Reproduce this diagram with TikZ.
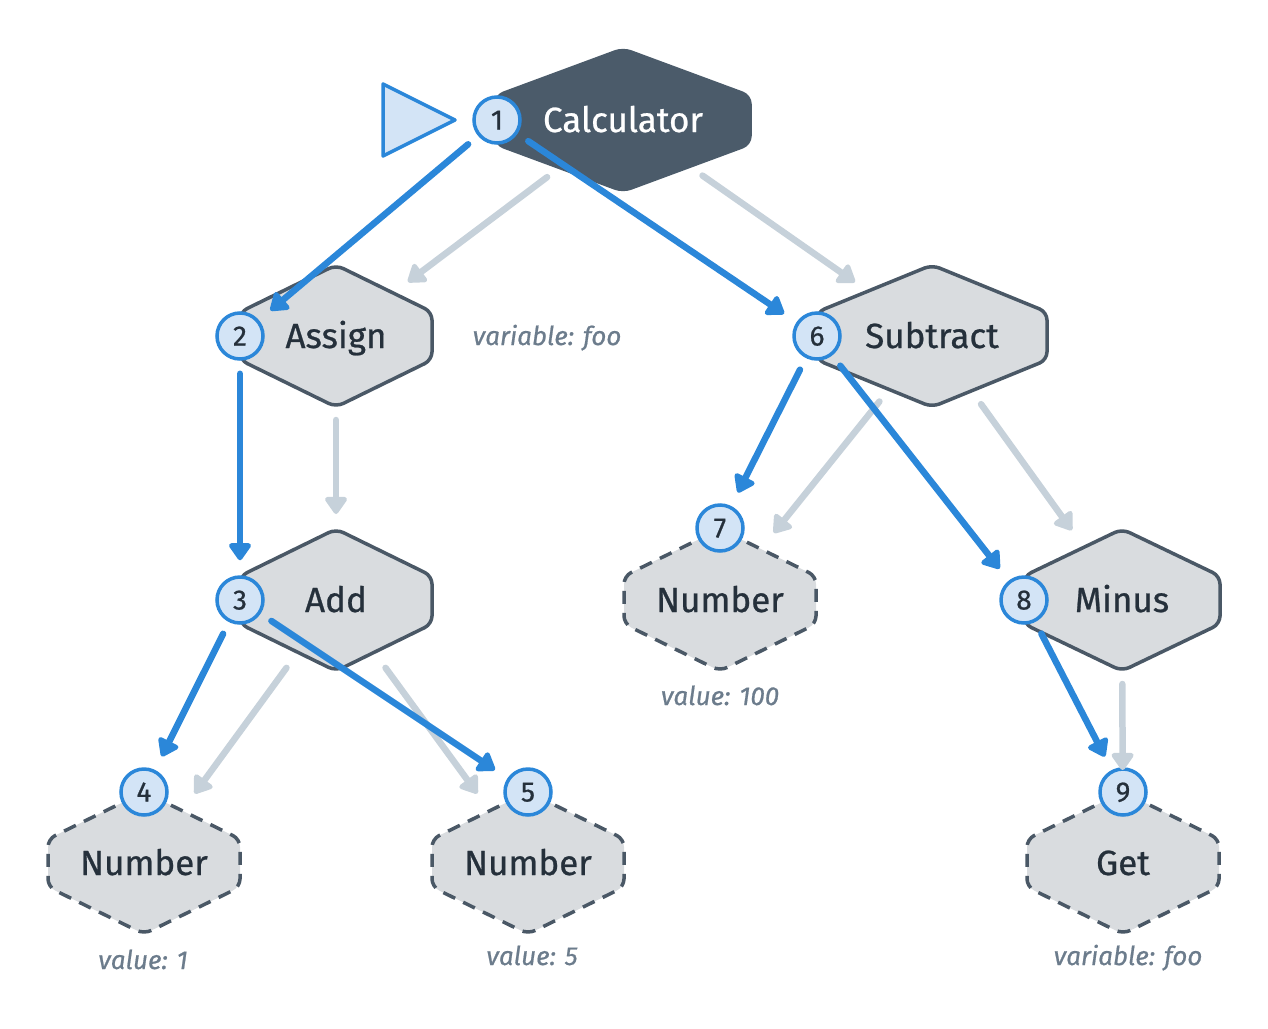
\documentclass[tikz,border=0pt]{standalone}
\usepackage{fontspec}
\setmainfont{Fira Sans}[FakeBold=0.7]
\usetikzlibrary{arrows.meta}

\definecolor{inkdark}{HTML}{25303B}
\definecolor{hexfill}{HTML}{D9DCDF}
\definecolor{hexedge}{HTML}{4A5866}
\definecolor{rootfill}{HTML}{4B5B6A}
\definecolor{flowblue}{HTML}{2B87D9}
\definecolor{badgefill}{HTML}{D3E4F6}
\definecolor{treegray}{HTML}{C6D1DA}
\definecolor{notegray}{HTML}{6C7C8C}

\newcommand\hexoutline{([yshift=-4pt]path picture bounding box.north)
  -- ([xshift=-4pt,yshift=24pt]path picture bounding box.east)
  -- ([xshift=-4pt,yshift=-24pt]path picture bounding box.east)
  -- ([yshift=4pt]path picture bounding box.south)
  -- ([xshift=4pt,yshift=-24pt]path picture bounding box.west)
  -- ([xshift=4pt,yshift=24pt]path picture bounding box.west) -- cycle}

\begin{document}
\begin{tikzpicture}[x=1pt, y=-1pt, >={Triangle[length=19pt,width=25pt,round]},
  hex/.style={rectangle, minimum height=150pt, inner sep=0pt, text=inkdark,
    text height=24pt, text depth=0pt, font=\fontsize{35}{40}\selectfont},
  op/.style={hex, path picture={\filldraw[fill=hexfill, draw=hexedge, line width=3.5pt,
    rounded corners=8pt] \hexoutline;}},
  leaf/.style={hex, path picture={\filldraw[fill=hexfill, draw=hexedge, line width=3.5pt,
    dash pattern=on 13pt off 9pt, rounded corners=8pt] \hexoutline;}},
  root/.style={hex, text=white, path picture={\filldraw[fill=rootfill, draw=rootfill,
    line width=3.5pt, rounded corners=8pt] \hexoutline;}},
  badge/.style={circle, minimum size=46pt, inner sep=0pt, fill=badgefill, draw=flowblue,
    line width=3.5pt, text=inkdark, text height=19pt, text depth=0pt,
    font=\fontsize{28}{30}\selectfont},
  flow/.style={->, draw=flowblue, line width=6.5pt, line cap=round,
    shorten <=13pt, shorten >=15pt},
  tree/.style={->, draw=treegray, line width=6.5pt, line cap=round,
    shorten <=84pt, shorten >=86pt},
  note/.style={text=notegray, text height=18pt, text depth=0pt,
    font=\fontsize{26}{30}\selectfont\itshape}]

\useasboundingbox (0,0) rectangle (1268,1028);

% start marker
\draw[fill=badgefill, draw=flowblue, line width=3.5pt, line join=round]
  (383,84) -- (455,120) -- (383,156) -- cycle;

% syntax tree
\node[root, minimum width=262pt] (calc) at (623,120) {Calculator};
\node[op, minimum width=200pt] (assign) at (336,336) {Assign};
\node[op, minimum width=238pt] (sub) at (932,336) {Subtract};
\node[op, minimum width=200pt] (add) at (336,600) {Add};
\node[leaf, minimum width=200pt] (num7) at (720,600) {Number};
\node[op, minimum width=204pt] (minus) at (1122,600) {Minus};
\node[leaf, minimum width=200pt] (num4) at (144,863) {Number};
\node[leaf, minimum width=200pt] (num5) at (528,863) {Number};
\node[leaf, minimum width=200pt] (get) at (1123,863) {Get};

% properties
\node[note] (assignvar) at (547,336) {variable: foo};
\node[note] (val100) at (720,696) {value: 100};
\node[note] (val1) at (143,960) {value: 1};
\node[note] (val5) at (532,956) {value: 5};
\node[note] (getvar) at (1128,956) {variable: foo};

% visit order
\node[badge] (b1) at (497,120) {1};
\node[badge] (b2) at (240,336) {2};
\node[badge] (b3) at (240,600) {3};
\node[badge] (b4) at (144,792) {4};
\node[badge] (b5) at (528,792) {5};
\node[badge] (b6) at (817,336) {6};
\node[badge] (b7) at (720,528) {7};
\node[badge] (b8) at (1024,600) {8};
\node[badge] (b9) at (1123,792) {9};

% children
\draw[tree, shorten <=95pt, shorten >=90pt] (calc.center) -- (assign.center);
\draw[tree, shorten <=97pt, shorten >=94pt] (calc.center) -- (sub.center);
\draw[tree] (assign.center) -- (add.center);
\draw[tree] (add.center) -- (num4.center);
\draw[tree] (add.center) -- (num5.center);
\draw[tree] (sub.center) -- (num7.center);
\draw[tree] (sub.center) -- (minus.center);
\draw[tree, shorten >=93pt] (minus.center) -- (get.center);

% traversal
\draw[flow] (b1) -- (b2);
\draw[flow] (b1) -- (b6);
\draw[flow] (b2) -- (b3);
\draw[flow] (b3) -- (b4);
\draw[flow] (b3) -- (b5);
\draw[flow] (b6) -- (b7);
\draw[flow] (b6) -- (b8);
\draw[flow] (b8) -- (b9);

\end{tikzpicture}
\end{document}
